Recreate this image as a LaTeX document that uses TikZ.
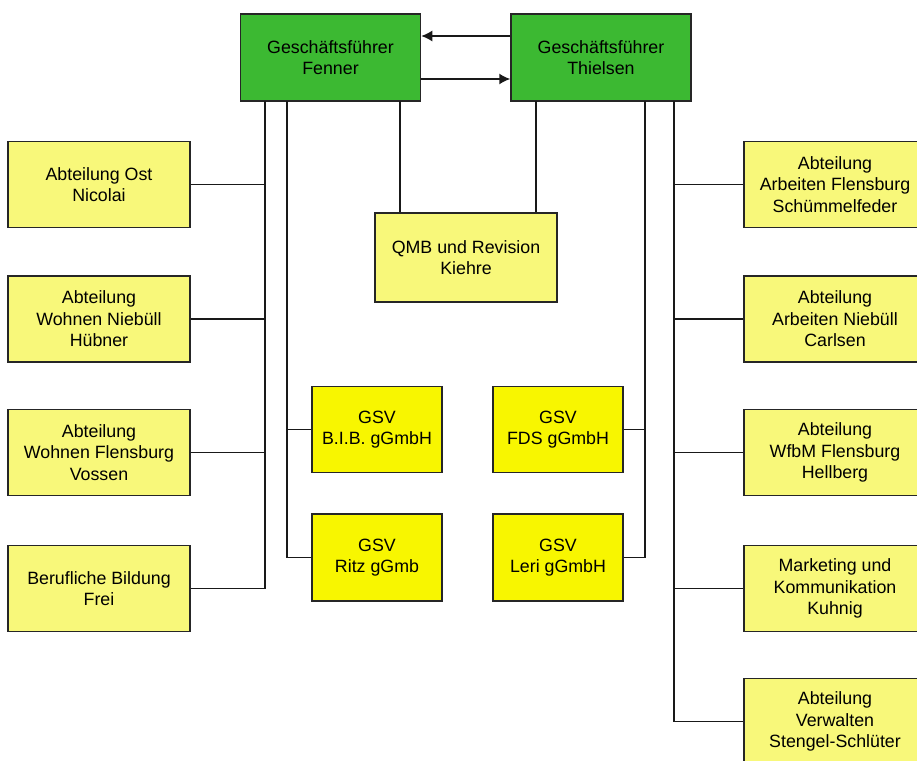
\documentclass[tikz,border=0pt]{standalone}
\usepackage{fontspec}
\setmainfont{Liberation Sans}
\usetikzlibrary{arrows.meta}
\definecolor{gfgreen}{RGB}{60,185,50}
\definecolor{lightyel}{RGB}{248,248,122}
\definecolor{gsvyel}{RGB}{248,246,0}
\begin{document}
\begin{tikzpicture}[x=1pt,y=-1pt,
  box/.style={draw=black!85, line width=1.5pt, inner sep=0pt, align=center,
    font=\fontsize{17.8}{21.5}\selectfont},
  gfbox/.style={box, fill=gfgreen, minimum width=180pt, minimum height=87pt},
  deptbox/.style={box, fill=lightyel, minimum width=182pt, minimum height=86pt},
  gsvbox/.style={box, fill=gsvyel, minimum width=130pt, minimum height=86pt},
  conn/.style={draw=black!90, line width=1.5pt},
  arr/.style={conn, -{Latex[length=11pt,width=11pt]}}]
\useasboundingbox (0,0) rectangle (917,760);
\begin{scope}
\clip (0,0) rectangle (917,760);
% top managers
\node[gfbox] (fenner) at (330.5,57.5) {Geschäftsführer\\Fenner};
\node[gfbox] (thielsen) at (601,57.5) {Geschäftsführer\\Thielsen};
% left departments
\node[deptbox] (ost) at (99,184.5) {Abteilung Ost\\Nicolai};
\node[deptbox] (wniebuell) at (99,319) {Abteilung\\Wohnen Niebüll\\Hübner};
\node[deptbox] (wflens) at (99,452.5) {Abteilung\\Wohnen Flensburg\\Vossen};
\node[deptbox] (bild) at (99,588.5) {Berufliche Bildung\\Frei};
% right departments
\node[deptbox] (aflens) at (835,184.5) {Abteilung\\Arbeiten Flensburg\\Schümmelfeder};
\node[deptbox] (aniebuell) at (835,319) {Abteilung\\Arbeiten Niebüll\\Carlsen};
\node[deptbox] (wfbm) at (835,452.5) {Abteilung\\WfbM Flensburg\\Hellberg};
\node[deptbox] (mark) at (835,588.5) {Marketing und\\Kommunikation\\Kuhnig};
\node[deptbox] (verw) at (835,721.5) {Abteilung\\Verwalten\\Stengel-Schlüter};
% centre
\node[deptbox, minimum height=89pt] (qmb) at (466,257.5) {QMB und Revision\\Kiehre};
\node[gsvbox] (bib) at (377,429.5) {GSV\\B.I.B. gGmbH};
\node[gsvbox, minimum height=87pt] (ritz) at (377,557.5) {GSV\\Ritz gGmb};
\node[gsvbox] (fds) at (558,429.5) {GSV\\FDS gGmbH};
\node[gsvbox, minimum height=87pt] (leri) at (558,557.5) {GSV\\Leri gGmbH};
% trunk coordinates
\coordinate (tA) at (265,101);
\coordinate (tB) at (287,101);
\coordinate (tC) at (400,101);
\coordinate (tD) at (536,101);
\coordinate (tE) at (645,101);
\coordinate (tF) at (674,101);
% arrows between managers
\draw[arr] (thielsen.west |- 0,36) -- (fenner.east |- 0,36);
\draw[arr] (fenner.east |- 0,79) -- (thielsen.west |- 0,79);
% left trunk
\draw[conn] (tA) |- (bild.east);
\draw[conn] (ost.east) -- (ost.east -| tA);
\draw[conn] (wniebuell.east) -- (wniebuell.east -| tA);
\draw[conn] (wflens.east) -- (wflens.east -| tA);
% GSV left
\draw[conn] (tB) |- (ritz.west);
\draw[conn] (bib.west) -- (bib.west -| tB);
% QMB
\draw[conn] (tC) -- (tC |- qmb.north);
\draw[conn] (tD) -- (tD |- qmb.north);
% GSV right
\draw[conn] (tE) |- (leri.east);
\draw[conn] (fds.east) -- (fds.east -| tE);
% right trunk
\draw[conn] (tF) |- (verw.west);
\draw[conn] (aflens.west) -- (aflens.west -| tF);
\draw[conn] (aniebuell.west) -- (aniebuell.west -| tF);
\draw[conn] (wfbm.west) -- (wfbm.west -| tF);
\draw[conn] (mark.west) -- (mark.west -| tF);
\end{scope}
\end{tikzpicture}
\end{document}
